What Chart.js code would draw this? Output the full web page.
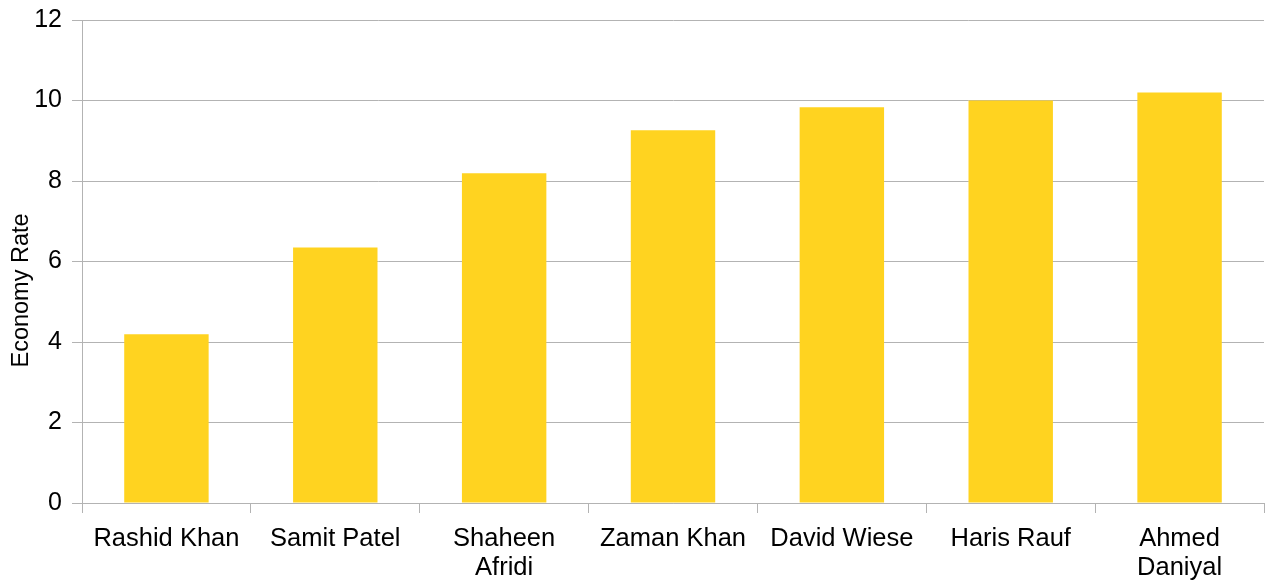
<!DOCTYPE html>
<html>
<head>
<meta charset="utf-8">
<script src="https://cdn.jsdelivr.net/npm/chart.js@4"></script>
<style>
  html, body { margin: 0; padding: 0; background: #fff; }
  #wrap { width: 1268px; height: 584px; }
</style>
</head>
<body>
<div id="wrap"><canvas id="econChart" width="1268" height="584"></canvas></div>
<script>
const players = [
  'Rashid Khan', 'Samit Patel', ['Shaheen', 'Afridi'], 'Zaman Khan',
  'David Wiese', 'Haris Rauf', ['Ahmed', 'Daniyal']
];
const economyRates = [4.19, 6.35, 8.19, 9.26, 9.83, 10.0, 10.2];
const yTicks = [0, 2, 4, 6, 8, 10, 12];
const yTitle = 'Economy Rate';

const gridColor = '#b3b3b3';

// y axis title sits a bit below the middle of the plot, like the original
const yTitlePlugin = {
  id: 'yTitle',
  afterDraw(chart) {
    const c = chart.ctx;
    const area = chart.chartArea;
    c.save();
    c.translate(22, area.top + (area.bottom - area.top) * 0.56);
    c.rotate(-Math.PI / 2);
    c.font = '23.5px "Liberation Sans"';
    c.fillStyle = '#000';
    c.textAlign = 'center';
    c.textBaseline = 'middle';
    c.fillText(yTitle, 0, 0);
    c.restore();
  }
};

const ctx = document.getElementById('econChart').getContext('2d');
new Chart(ctx, {
  type: 'bar',
  data: {
    labels: players,
    datasets: [{
      label: yTitle,
      data: economyRates,
      backgroundColor: '#ffd320',
      borderWidth: 0,
      categoryPercentage: 1,
      barPercentage: 0.5
    }]
  },
  options: {
    responsive: false,
    animation: false,
    layout: { padding: { top: 20, right: 4, left: 0, bottom: 0 } },
    plugins: {
      legend: { display: false },
      tooltip: { enabled: false }
    },
    scales: {
      x: {
        grid: {
          offset: true,
          drawOnChartArea: false,
          drawTicks: true,
          tickLength: 10,
          color: gridColor
        },
        border: { color: gridColor },
        ticks: {
          color: '#000',
          maxRotation: 0,
          autoSkip: false,
          padding: 12,
          font: { family: 'Liberation Sans', size: 25.5, lineHeight: 1.12 }
        },
        afterFit: function (axis) {
          axis.height = 81;
          axis.paddingLeft = 0;
          axis.paddingRight = 0;
        }
      },
      y: {
        min: 0,
        max: 12,
        afterBuildTicks: function (axis) {
          axis.ticks = yTicks.map(v => ({ value: v }));
        },
        grid: { color: gridColor, tickLength: 10 },
        border: { color: gridColor },
        ticks: {
          color: '#000',
          padding: 10,
          font: { family: 'Liberation Sans', size: 25 }
        },
        afterFit: function (axis) {
          axis.width = 82;
          axis.paddingTop = 0;
          axis.paddingBottom = 0;
        }
      }
    }
  },
  plugins: [yTitlePlugin]
});
</script>
</body>
</html>
